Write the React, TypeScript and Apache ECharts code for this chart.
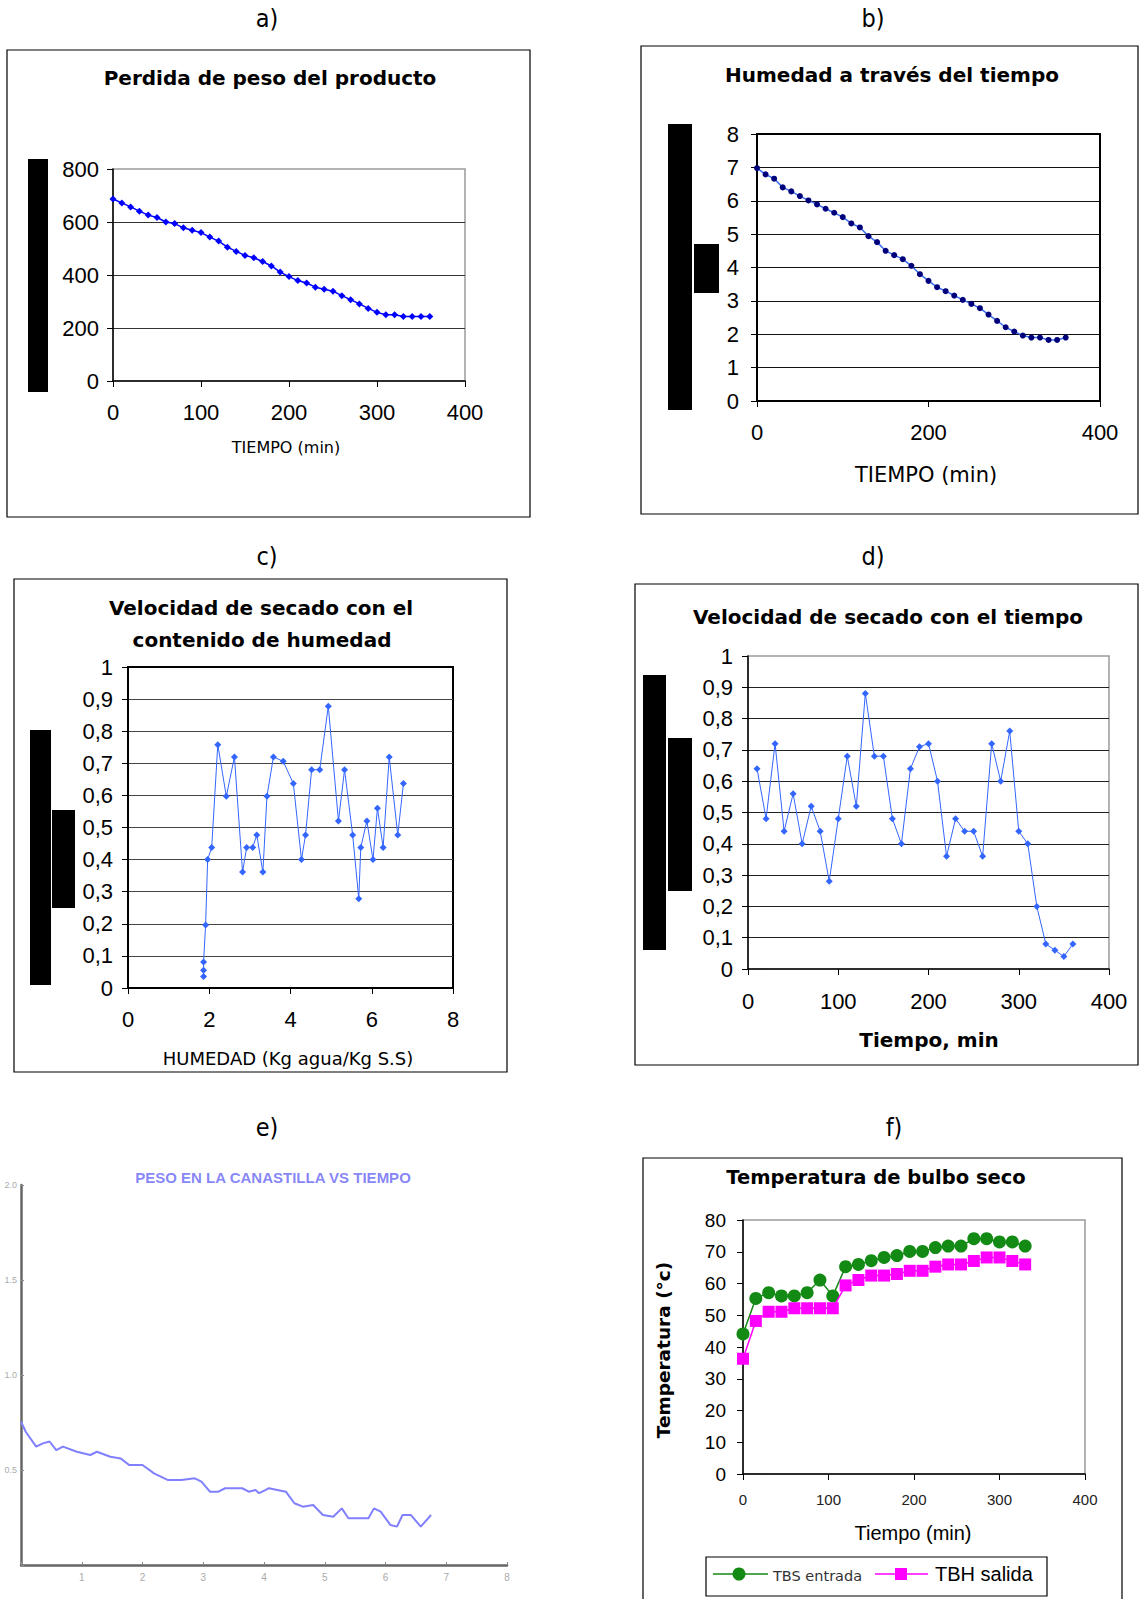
import React, { useEffect, useRef } from 'react';
import * as echarts from 'echarts';

const FONT = '"Liberation Sans", Arial, sans-serif';
const WIDE = '"DejaVu Sans", Verdana, sans-serif';
const NARROW = '"Liberation Sans Narrow", "DejaVu Sans Condensed", "Liberation Sans", sans-serif';

// a) Perdida de peso del producto
const timeA = [0, 10, 20, 30, 40, 50, 60, 70, 80, 90, 100, 110, 120, 130, 140, 150, 160, 170, 180, 190, 200, 210, 220, 230, 240, 250, 260, 270, 280, 290, 300, 310, 320, 330, 340, 350, 360];
const pesoA = [687, 672, 657, 641, 626, 617, 600, 594, 578, 569, 560, 543, 528, 505, 489, 474, 465, 451, 434, 411, 394, 379, 370, 354, 346, 339, 322, 307, 291, 274, 259, 250, 250, 243, 243, 243, 243];

// b) Humedad a través del tiempo
const timeB = [0, 10, 20, 30, 40, 50, 60, 70, 80, 90, 100, 110, 120, 130, 140, 150, 160, 170, 180, 190, 200, 210, 220, 230, 240, 250, 260, 270, 280, 290, 300, 310, 320, 330, 340, 350, 360];
const humedadB = [6.98, 6.79, 6.66, 6.4, 6.28, 6.14, 6.01, 5.89, 5.76, 5.64, 5.51, 5.32, 5.2, 4.94, 4.76, 4.5, 4.37, 4.25, 4.05, 3.8, 3.6, 3.41, 3.29, 3.16, 3.03, 2.91, 2.78, 2.59, 2.4, 2.21, 2.08, 1.96, 1.9, 1.9, 1.83, 1.83, 1.9];

// c) Velocidad de secado con el contenido de humedad
const humedadC = [1.86, 1.86, 1.86, 1.91, 1.96, 2.06, 2.21, 2.42, 2.62, 2.82, 2.92, 3.07, 3.17, 3.32, 3.42, 3.58, 3.82, 4.07, 4.27, 4.37, 4.52, 4.72, 4.93, 5.18, 5.33, 5.53, 5.68, 5.73, 5.88, 6.03, 6.14, 6.28, 6.43, 6.64, 6.78];
const velC = [0.036, 0.055, 0.081, 0.196, 0.4, 0.438, 0.758, 0.597, 0.72, 0.361, 0.438, 0.438, 0.477, 0.361, 0.597, 0.72, 0.706, 0.637, 0.4, 0.477, 0.68, 0.68, 0.878, 0.52, 0.68, 0.477, 0.278, 0.438, 0.52, 0.4, 0.56, 0.438, 0.72, 0.477, 0.637];

// d) Velocidad de secado con el tiempo
const timeD = [10, 20, 30, 40, 50, 60, 70, 80, 90, 100, 110, 120, 130, 140, 150, 160, 170, 180, 190, 200, 210, 220, 230, 240, 250, 260, 270, 280, 290, 300, 310, 320, 330, 340, 350, 360];
const velD = [0.64, 0.48, 0.72, 0.44, 0.56, 0.4, 0.52, 0.44, 0.28, 0.48, 0.68, 0.52, 0.88, 0.68, 0.68, 0.48, 0.4, 0.64, 0.71, 0.72, 0.6, 0.36, 0.48, 0.44, 0.44, 0.36, 0.72, 0.6, 0.76, 0.44, 0.4, 0.2, 0.08, 0.06, 0.04, 0.08];

// e) Peso en la canastilla vs tiempo
const timeE = [0, 0.08, 0.25, 0.36, 0.47, 0.58, 0.69, 0.92, 1.14, 1.25, 1.47, 1.64, 1.78, 2.0, 2.19, 2.42, 2.64, 2.86, 2.97, 3.11, 3.25, 3.36, 3.64, 3.75, 3.86, 3.92, 4.03, 4.08, 4.36, 4.5, 4.64, 4.81, 4.97, 5.14, 5.28, 5.39, 5.58, 5.72, 5.81, 5.92, 6.08, 6.19, 6.28, 6.42, 6.58, 6.75];
const pesoE = [0.754, 0.7, 0.623, 0.64, 0.65, 0.605, 0.623, 0.596, 0.579, 0.596, 0.57, 0.561, 0.526, 0.526, 0.482, 0.447, 0.447, 0.456, 0.439, 0.386, 0.386, 0.404, 0.404, 0.386, 0.395, 0.378, 0.395, 0.404, 0.386, 0.325, 0.307, 0.316, 0.263, 0.254, 0.298, 0.246, 0.246, 0.246, 0.298, 0.281, 0.211, 0.202, 0.263, 0.263, 0.202, 0.263];
const yLabelsE = ['', '0.5', '1.0', '1.5', '2.0'];

// f) Temperatura de bulbo seco
const timeF = [0, 15, 30, 45, 60, 75, 90, 105, 120, 135, 150, 165, 180, 195, 210, 225, 240, 255, 270, 285, 300, 315, 330];
const tbsF = [44.1, 55.3, 57.1, 56.1, 56.1, 57.1, 61.1, 56.1, 65.3, 66.0, 67.2, 68.2, 68.8, 70.1, 70.1, 71.3, 71.8, 71.8, 74.1, 74.1, 73.1, 73.1, 71.8];
const tbhF = [36.3, 48.2, 51.1, 51.1, 52.2, 52.2, 52.2, 52.2, 59.4, 61.1, 62.5, 62.5, 63.0, 64.0, 64.0, 65.3, 66.0, 66.0, 67.1, 68.2, 68.2, 67.1, 66.0];

const zip = (xs: number[], ys: number[]) => xs.map((x, i) => [x, ys[i]]);
const comma = (v: number) => (v === 0 ? '0' : v === 1 ? '1' : v.toFixed(1).replace('.', ','));

function txt(text: string, x: number, y: number, fontSize: number, opts: any = {}) {
  return {
    type: 'text',
    x,
    y,
    rotation: opts.rotation || 0,
    silent: true,
    z: 100,
    style: {
      text,
      fill: opts.fill || '#000',
      fontSize,
      fontFamily: opts.fontFamily || FONT,
      fontWeight: opts.fontWeight || 'normal',
      align: opts.align || 'center',
      verticalAlign: 'middle',
      textAlign: opts.align || 'center',
      textVerticalAlign: 'middle',
      opacity: opts.opacity == null ? 1 : opts.opacity,
    },
  };
}

function box(x: number, y: number, w: number, h: number, stroke = '#000', lw = 1.2) {
  return { type: 'rect', silent: true, z: 1, shape: { x, y, width: w, height: h }, style: { fill: 'none', stroke, lineWidth: lw } };
}

function blk(x: number, y: number, w: number, h: number) {
  return { type: 'rect', silent: true, z: 100, shape: { x, y, width: w, height: h }, style: { fill: '#000' } };
}

function xAx(grid: number, min: number, max: number, interval: number, fontSize: number, margin: number, extra: any = {}) {
  return {
    gridIndex: grid,
    type: 'value',
    min,
    max,
    interval,
    axisLine: { show: true, onZero: false, lineStyle: { color: '#000', width: 1.5 } },
    axisTick: { show: true, length: 6, lineStyle: { color: '#000', width: 1 } },
    axisLabel: { fontSize, color: '#000', margin, fontFamily: FONT, ...(extra.axisLabel || {}) },
    splitLine: { show: false },
  };
}

function yAx(grid: number, min: number, max: number, interval: number, fontSize: number, margin: number, split: any, extra: any = {}) {
  return {
    gridIndex: grid,
    type: 'value',
    min,
    max,
    interval,
    axisLine: { show: true, onZero: false, lineStyle: { color: '#000', width: 1.5 } },
    axisTick: { show: true, length: 6, lineStyle: { color: '#000', width: 1 } },
    axisLabel: { fontSize, color: '#000', margin, fontFamily: FONT, ...(extra.axisLabel || {}) },
    splitLine: split
      ? { show: true, showMinLine: false, showMaxLine: false, lineStyle: { color: split, width: 1 } }
      : { show: false },
  };
}

export default function App() {
  const ref = useRef<HTMLDivElement>(null);
  useEffect(() => {
    if (!ref.current) return;
    const chart = echarts.init(ref.current, undefined, { renderer: 'svg' });
    const option: any = {
      animation: false,
      backgroundColor: '#fff',
      textStyle: { fontFamily: FONT },
      grid: [
        { left: 113, top: 169, width: 352, height: 212, show: true, borderColor: '#9a9a9a', borderWidth: 1.5, backgroundColor: 'transparent' },
        { left: 757, top: 134, width: 343, height: 267, show: true, borderColor: '#000', borderWidth: 2, backgroundColor: 'transparent' },
        { left: 128, top: 667, width: 325, height: 321, show: true, borderColor: '#000', borderWidth: 2, backgroundColor: 'transparent' },
        { left: 748, top: 656, width: 361, height: 313, show: true, borderColor: '#9a9a9a', borderWidth: 1.5, backgroundColor: 'transparent' },
        { left: 21, top: 1185, width: 486, height: 380, show: false },
        { left: 743, top: 1220, width: 342, height: 254, show: true, borderColor: '#9a9a9a', borderWidth: 1.5, backgroundColor: 'transparent' },
      ],
      xAxis: [
        xAx(0, 0, 400, 100, 22, 20),
        xAx(1, 0, 400, 200, 22, 20),
        xAx(2, 0, 8, 2, 22, 20),
        xAx(3, 0, 400, 100, 22, 21),
        {
          gridIndex: 4, type: 'value', min: 0, max: 8, interval: 1,
          axisLine: { show: true, onZero: false, lineStyle: { color: '#666', width: 2.5 } },
          axisTick: { show: true, length: 3, inside: true, lineStyle: { color: '#888', width: 1 } },
          axisLabel: { fontSize: 10, color: '#aaa', margin: 7, formatter: (v: number) => (v === 0 ? '' : String(v)) },
          splitLine: { show: false },
        },
        xAx(5, 0, 400, 100, 15, 18, { axisLabel: { color: '#222' } }),
      ],
      yAxis: [
        yAx(0, 0, 800, 200, 22, 14, '#333'),
        yAx(1, 0, 8, 1, 22, 18, '#111'),
        yAx(2, 0, 1, 0.1, 22, 15, '#444', { axisLabel: { formatter: comma } }),
        yAx(3, 0, 1, 0.1, 22, 15, '#222', { axisLabel: { formatter: comma } }),
        {
          gridIndex: 4, type: 'value', min: 0, max: 2, interval: 0.5,
          axisLine: { show: true, onZero: false, lineStyle: { color: '#666', width: 2.5 } },
          axisTick: { show: true, length: 3, inside: true, lineStyle: { color: '#888', width: 1 } },
          axisLabel: { fontSize: 9, color: '#aaa', margin: 4, formatter: (v: number) => yLabelsE[Math.round(v * 2)] },
          splitLine: { show: false },
        },
        yAx(5, 0, 80, 10, 19, 17, null),
      ],
      series: [
        {
          type: 'line', xAxisIndex: 0, yAxisIndex: 0, data: zip(timeA, pesoA),
          symbol: 'diamond', symbolSize: 7, lineStyle: { color: '#0000ff', width: 1.5 }, itemStyle: { color: '#0000ff' }, z: 5,
        },
        {
          type: 'line', xAxisIndex: 1, yAxisIndex: 1, data: zip(timeB, humedadB),
          symbol: 'circle', symbolSize: 6, lineStyle: { color: '#3a6ff0', width: 1.5 }, itemStyle: { color: '#00007a' }, z: 5,
        },
        {
          type: 'line', xAxisIndex: 2, yAxisIndex: 2, data: zip(humedadC, velC),
          symbol: 'diamond', symbolSize: 7, lineStyle: { color: '#3366ff', width: 1 }, itemStyle: { color: '#3366ff' }, z: 5,
        },
        {
          type: 'line', xAxisIndex: 3, yAxisIndex: 3, data: zip(timeD, velD),
          symbol: 'diamond', symbolSize: 7, lineStyle: { color: '#3366ff', width: 1 }, itemStyle: { color: '#3366ff' }, z: 5,
        },
        {
          type: 'line', xAxisIndex: 4, yAxisIndex: 4, data: zip(timeE, pesoE),
          symbol: 'none', lineStyle: { color: '#8080ff', width: 2 }, z: 5,
        },
        {
          type: 'line', name: 'TBS entrada', xAxisIndex: 5, yAxisIndex: 5, data: zip(timeF, tbsF),
          symbol: 'circle', symbolSize: 13, lineStyle: { color: '#138a13', width: 1.5 }, itemStyle: { color: '#138a13' }, z: 5,
        },
        {
          type: 'line', name: 'TBH salida', xAxisIndex: 5, yAxisIndex: 5, data: zip(timeF, tbhF),
          symbol: 'rect', symbolSize: 12, lineStyle: { color: '#ff00ff', width: 1.5 }, itemStyle: { color: '#ff00ff' }, z: 6,
        },
      ],
      graphic: [
        // panel labels
        txt('a)', 267, 18, 25, { fontFamily: NARROW }),
        txt('b)', 873, 18, 25, { fontFamily: NARROW }),
        txt('c)', 267, 556, 25, { fontFamily: NARROW }),
        txt('d)', 873, 556, 25, { fontFamily: NARROW }),
        txt('e)', 267, 1127, 25, { fontFamily: NARROW }),
        txt('f)', 894, 1127, 25, { fontFamily: NARROW }),
        // boxes
        box(7, 50, 523, 467),
        box(641, 46, 497, 468),
        box(14, 579, 493, 493),
        box(635, 584, 503, 481),
        box(643, 1158, 479, 460),
        // black bars
        blk(28, 159, 20, 233),
        blk(668, 124, 24, 286),
        blk(694, 244, 25, 49),
        blk(30, 730, 21, 255),
        blk(52, 810, 23, 98),
        blk(643, 675, 23, 275),
        blk(668, 738, 24, 153),
        // titles
        txt('Perdida de peso del producto', 270, 78, 20, { fontWeight: 'bold', fontFamily: WIDE }),
        txt('Humedad a través del tiempo', 892, 75, 20, { fontWeight: 'bold', fontFamily: WIDE }),
        txt('Velocidad de secado con el', 261, 608, 20, { fontWeight: 'bold', fontFamily: WIDE }),
        txt('contenido de humedad', 262, 640, 20, { fontWeight: 'bold', fontFamily: WIDE }),
        txt('Velocidad de secado con el tiempo', 888, 617, 20, { fontWeight: 'bold', fontFamily: WIDE }),
        txt('PESO EN LA CANASTILLA VS TIEMPO', 273, 1177, 15, { fontWeight: 'bold', fill: '#5050f5', opacity: 0.7 }),
        txt('Temperatura de bulbo seco', 876, 1177, 19.5, { fontWeight: 'bold', fontFamily: WIDE }),
        // axis names
        txt('TIEMPO (min)', 286, 447, 16, { fontFamily: WIDE }),
        txt('TIEMPO (min)', 926, 475, 21, { fontFamily: WIDE }),
        txt('HUMEDAD (Kg agua/Kg S.S)', 288, 1058, 18, { fontFamily: WIDE }),
        txt('Tiempo, min', 929, 1040, 20, { fontWeight: 'bold', fontFamily: WIDE }),
        txt('Tiempo (min)', 913, 1533, 20),
        txt('Temperatura (°c)', 663, 1350, 18.5, { fontWeight: 'bold', fontFamily: WIDE, rotation: Math.PI / 2 }),
        // legend f
        box(706, 1557, 341, 39),
        { type: 'line', silent: true, z: 100, shape: { x1: 713, y1: 1574, x2: 768, y2: 1574 }, style: { stroke: '#138a13', lineWidth: 1.5 } },
        { type: 'circle', silent: true, z: 101, shape: { cx: 739, cy: 1574, r: 6.5 }, style: { fill: '#138a13' } },
        txt('TBS entrada', 773, 1576, 14.5, { align: 'left', fill: '#333', fontFamily: WIDE }),
        { type: 'line', silent: true, z: 100, shape: { x1: 875, y1: 1574, x2: 928, y2: 1574 }, style: { stroke: '#ff00ff', lineWidth: 1.5 } },
        { type: 'rect', silent: true, z: 101, shape: { x: 895, y: 1568, width: 12, height: 12 }, style: { fill: '#ff00ff' } },
        txt('TBH salida', 935, 1574, 20, { align: 'left' }),
      ],
    };
    chart.setOption(option);
    return () => chart.dispose();
  }, []);
  return (
    <div
      ref={ref}
      style={{ position: 'absolute', left: 0, top: 0, width: 1139, height: 1599, background: '#fff' }}
    />
  );
}
